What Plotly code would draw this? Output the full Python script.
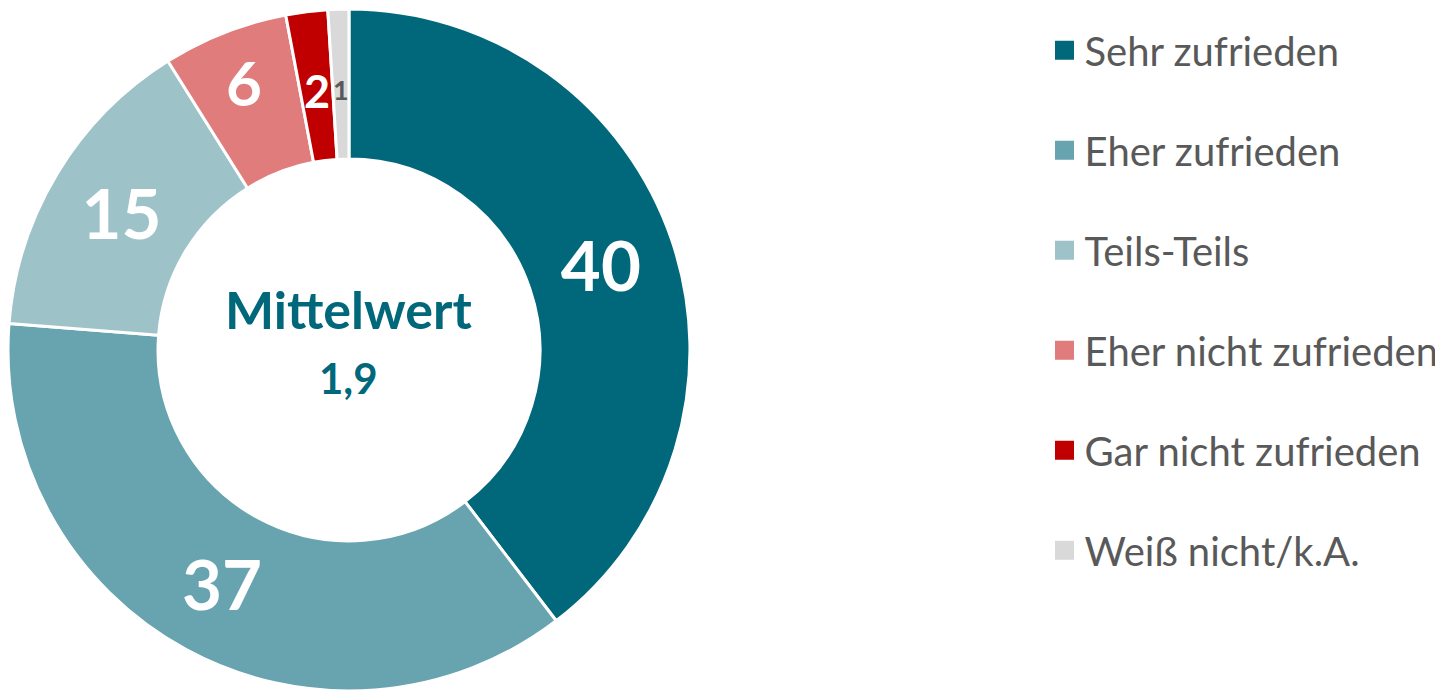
import math
import plotly.graph_objects as go

categories = ["Sehr zufrieden", "Eher zufrieden", "Teils-Teils",
              "Eher nicht zufrieden", "Gar nicht zufrieden", "Weiß nicht/k.A."]
values = [40, 37, 15, 6, 2, 1]
colors = ["#00687A", "#67A4AF", "#9DC3C9", "#E07C7B", "#C00000", "#D9D9D9"]
label_colors = ["white", "white", "white", "white", "white", "#595959"]
label_sizes = [69, 69, 69, 62, 45, 27]
center_title = "Mittelwert"
center_value = "1,9"

FONT = "Lato"
W, H = 1443, 691
HOLE = 0.56
dom_x = [0.0, 0.4726]
dom_y = [0.0116, 0.9986]

# slices that are too thin for plotly's inside text get an annotation instead
thin = [v / sum(values) < 0.03 for v in values]

fig = go.Figure()
fig.add_trace(
    go.Pie(
        labels=categories,
        values=values,
        sort=False,
        direction="clockwise",
        rotation=0,
        hole=HOLE,
        marker=dict(colors=colors, line=dict(color="white", width=3)),
        text=["" if t else str(v) for v, t in zip(values, thin)],
        textinfo="text",
        textposition="inside",
        insidetextorientation="horizontal",
        textfont=dict(family=FONT, size=label_sizes, color=label_colors, weight="bold"),
        hoverinfo="label+value",
        domain=dict(x=dom_x, y=dom_y),
        showlegend=False,
    )
)

# labels for the thin slices, placed at the middle of the ring
cx = (dom_x[0] + dom_x[1]) / 2
cy = (dom_y[0] + dom_y[1]) / 2
radius = min((dom_x[1] - dom_x[0]) * W, (dom_y[1] - dom_y[0]) * H) / 2
r_mid = radius * (1 + HOLE) / 2 * 0.98
total = sum(values)
cum = 0
for v, t, col, size in zip(values, thin, label_colors, label_sizes):
    mid = (cum + v / 2) / total * 2 * math.pi
    cum += v
    if not t:
        continue
    fig.add_annotation(
        x=cx + r_mid * math.sin(mid) / W,
        y=cy + r_mid * math.cos(mid) / H,
        xref="paper", yref="paper", xanchor="center", yanchor="middle",
        text=f"<b>{v}</b>", showarrow=False,
        font=dict(family=FONT, size=size, color=col),
    )

# legend entries
for cat, col in zip(categories, colors):
    fig.add_trace(
        go.Scatter(
            x=[None], y=[None], mode="markers", name=cat, legendgroup=cat,
            marker=dict(symbol="square", size=16, color=col, line=dict(color=col, width=3)),
            hoverinfo="skip",
        )
    )

fig.add_annotation(
    x=cx, y=0.5644, xref="paper", yref="paper", xanchor="center", yanchor="middle",
    text=f"<b>{center_title}</b>", showarrow=False,
    font=dict(family=FONT, size=52, color="#00687A"),
)
fig.add_annotation(
    x=cx, y=0.4645, xref="paper", yref="paper", xanchor="center", yanchor="middle",
    text=f"<b>{center_value}</b>", showarrow=False,
    font=dict(family=FONT, size=42, color="#00687A"),
)

fig.update_xaxes(visible=False)
fig.update_yaxes(visible=False)
fig.update_layout(
    width=W,
    height=H,
    margin=dict(l=0, r=0, t=0, b=0),
    paper_bgcolor="white",
    plot_bgcolor="white",
    showlegend=True,
    legend=dict(
        x=0.7183, y=0.986, xanchor="left", yanchor="top",
        font=dict(family=FONT, size=40, color="#595959"),
        traceorder="grouped",
        tracegroupgap=45,
        itemclick=False,
        bgcolor="rgba(0,0,0,0)",
    ),
)

fig.write_html("out.html")
